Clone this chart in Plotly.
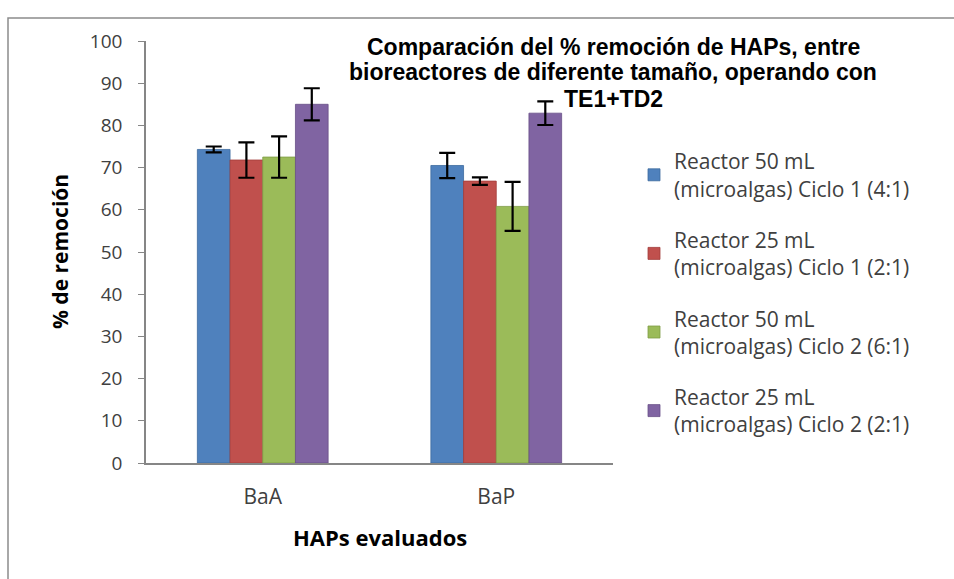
import plotly.graph_objects as go

# Compuestos evaluados (eje X)
haps = ["BaA", "BaP"]

# Series: % de remoción y desviación por reactor
series_names = [
    "Reactor 50 mL<br>(microalgas) Ciclo 1 (4:1)",
    "Reactor 25 mL<br>(microalgas) Ciclo 1 (2:1)",
    "Reactor 50 mL<br>(microalgas) Ciclo 2 (6:1)",
    "Reactor 25 mL<br>(microalgas) Ciclo 2 (2:1)",
]
r50_c1 = [74.3, 70.5]
r25_c1 = [71.8, 66.8]
r50_c2 = [72.5, 60.8]
r25_c2 = [85.0, 82.9]

r50_c1_err = [0.7, 3.0]
r25_c1_err = [4.2, 0.9]
r50_c2_err = [4.9, 5.8]
r25_c2_err = [3.8, 2.8]

y_ticks = [0, 10, 20, 30, 40, 50, 60, 70, 80, 90, 100]

title_lines = [
    "Comparación del % remoción de HAPs, entre",
    "bioreactores de diferente tamaño, operando con",
    "TE1+TD2",
]

values = [r50_c1, r25_c1, r50_c2, r25_c2]
errors = [r50_c1_err, r25_c1_err, r50_c2_err, r25_c2_err]
colors = ["#4F81BD", "#C0504D", "#9BBB59", "#8064A2"]
edges = ["#3C6A9E", "#A23E3B", "#7F9C45", "#684F88"]

fig = go.Figure()
for i, (name, vals, errs) in enumerate(zip(series_names, values, errors)):
    fig.add_trace(go.Bar(
        x=haps, y=vals, name=name,
        legendgroup=f"g{i}",
        marker=dict(color=colors[i], line=dict(color=edges[i], width=0.8)),
        error_y=dict(type="data", array=errs, visible=True,
                     color="black", thickness=2.2, width=8),
    ))

# Geometría del área de trazado (px)
W, H = 954, 579
L, R, T, B = 146, 613, 41, 463
pw, ph = R - L, B - T


def px_x(p):
    return (p - L) / pw


def px_y(p):
    return (B - p) / ph


text_font = "'Open Sans', Lato, sans-serif"

# Título en tres líneas con interlineado compacto
title_annotations = [
    dict(
        text=f"<b>{line}</b>",
        xref="paper", yref="paper", x=px_x(613), y=px_y(yc),
        xanchor="center", yanchor="middle", showarrow=False,
        font=dict(family="Liberation Sans, Arial, sans-serif", size=23,
                  color="black"),
    )
    for line, yc in zip(title_lines, [47, 72, 99])
]

fig.update_layout(
    width=W, height=H,
    margin=dict(l=L, r=W - R, t=T, b=H - B, pad=0),
    paper_bgcolor="white", plot_bgcolor="white",
    barmode="group", bargap=0.44, bargroupgap=0,
    showlegend=True,
    legend=dict(
        x=px_x(634), y=px_y(141), xanchor="left", yanchor="top",
        font=dict(family=text_font, size=21, color="#404040"),
        traceorder="grouped", tracegroupgap=21,
        itemwidth=30, bgcolor="rgba(0,0,0,0)",
    ),
    xaxis=dict(
        showline=True, linecolor="#868686", linewidth=1.5,
        ticks="", showgrid=False,
        tickfont=dict(family=text_font, size=21, color="#404040"),
        ticklabelstandoff=14,
    ),
    yaxis=dict(
        range=[0, 100], tickvals=y_ticks,
        showline=True, linecolor="#868686", linewidth=1.5,
        ticks="outside", ticklen=6, tickcolor="#868686",
        showgrid=False, zeroline=False,
        tickfont=dict(family=text_font, size=19, color="#404040"),
        ticklabelstandoff=12,
    ),
    shapes=[dict(
        type="rect", xref="paper", yref="paper",
        x0=px_x(8), x1=px_x(975), y0=px_y(600), y1=px_y(18),
        line=dict(color="#8C8C8C", width=1.5), fillcolor="rgba(0,0,0,0)",
        layer="below",
    )],
    annotations=title_annotations + [
        dict(
            text="<b>% de remoción</b>", textangle=-90,
            xref="paper", yref="paper", x=px_x(60), y=px_y(252),
            xanchor="center", yanchor="middle", showarrow=False,
            font=dict(family=text_font, size=21, color="black"),
        ),
        dict(
            text="<b>HAPs evaluados</b>",
            xref="paper", yref="paper", x=px_x(380), y=px_y(537),
            xanchor="center", yanchor="middle", showarrow=False,
            font=dict(family=text_font, size=22, color="black"),
        ),
    ],
)

fig.write_html("out.html")
